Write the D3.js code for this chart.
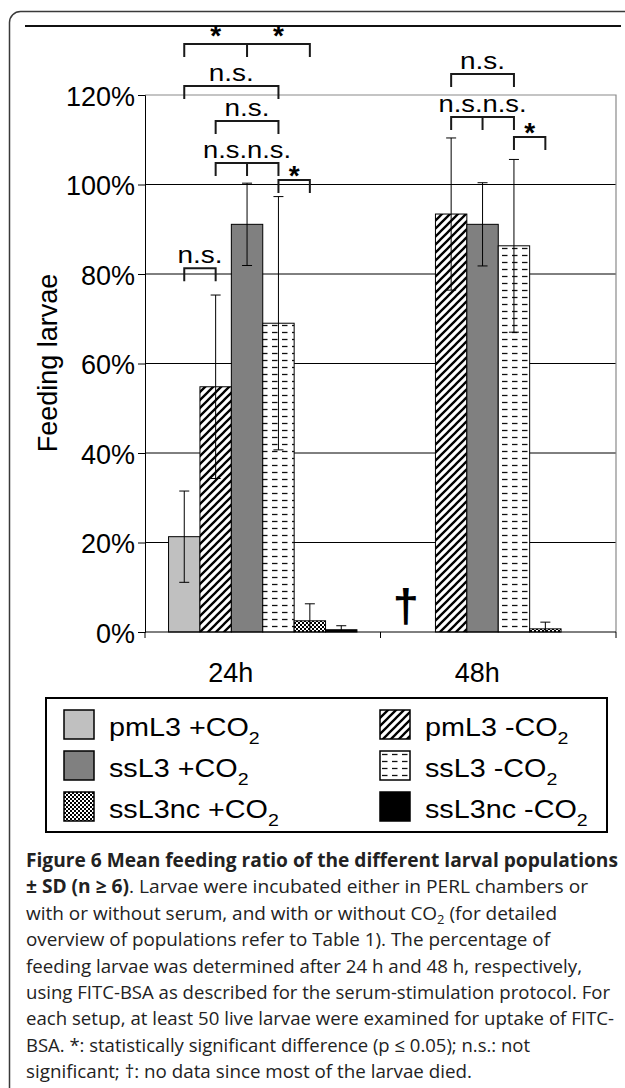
<!DOCTYPE html>
<html>
<head>
<meta charset="utf-8">
<script src="https://cdn.jsdelivr.net/npm/d3@7"></script>
<style>
  body { margin: 0; background: #fff; }
  svg { display: block; }
</style>
</head>
<body>
<svg id="svg0" width="625" height="1088"></svg>
<script>
// values (fraction of feeding larvae)
var categories = ['24h', '48h'];
var series = ['pmL3 +CO2', 'pmL3 -CO2', 'ssL3 +CO2', 'ssL3 -CO2', 'ssL3nc +CO2', 'ssL3nc -CO2'];
var means24 = [0.213, 0.548, 0.911, 0.690, 0.025, 0.005];
var sd24    = [0.102, 0.205, 0.092, 0.283, 0.038, 0.009];
var means48 = [null, 0.934, 0.911, 0.863, 0.007, 0];
var sd48    = [null, 0.170, 0.093, 0.193, 0.015, 0];
var yTicks = [0, 0.2, 0.4, 0.6, 0.8, 1.0, 1.2];

// significance brackets: category, bars joined, level, label
var brackets = [
    {cat: '24h', bars: [0, 1], level: 0.813, label: 'n.s.'},
    {cat: '24h', bars: [1, 2, 3], level: 1.048, label: 'n.s.n.s.'},
    {cat: '24h', bars: [3, 4], level: 1.010, label: '*'},
    {cat: '24h', bars: [1, 3], level: 1.142, label: 'n.s.'},
    {cat: '24h', bars: [0, 3], level: 1.220, label: 'n.s.'},
    {cat: '24h', bars: [0, 2, 4], level: 1.314, label: '* *'},
    {cat: '48h', bars: [1, 2, 3], level: 1.151, label: 'n.s.n.s.'},
    {cat: '48h', bars: [3, 4], level: 1.106, label: '*'},
    {cat: '48h', bars: [1, 3], level: 1.247, label: 'n.s.'}
];

var captionLines = [
    [{t: 'Figure 6 Mean feeding ratio of the different larval populations', b: true}],
    [{t: '\u00b1 SD (n \u2265 6)', b: true}, {t: '. Larvae were incubated either in PERL chambers or'}],
    [{t: 'with or without serum, and with or without CO'}, {t: '2', sub: true}, {t: ' (for detailed'}],
    [{t: 'overview of populations refer to Table 1). The percentage of'}],
    [{t: 'feeding larvae was determined after 24 h and 48 h, respectively,'}],
    [{t: 'using FITC-BSA as described for the serum-stimulation protocol. For'}],
    [{t: 'each setup, at least 50 live larvae were examined for uptake of FITC-'}],
    [{t: 'BSA. *: statistically significant difference (p \u2264 0.05); n.s.: not'}],
    [{t: 'significant; \u2020: no data since most of the larvae died.'}]
];
var captionWidths = [592, 562, 531, 524, 556, 584, 588, 504, 446];

var font = '"Liberation Sans", Arial, sans-serif';
var svg = d3.select('#svg0');

// frame
svg.append('rect')
    .attr('x', 9.5).attr('y', 11.5)
    .attr('width', 700).attr('height', 1200)
    .attr('rx', 11)
    .attr('fill', 'none')
    .attr('stroke', '#3a3a3a')
    .attr('stroke-width', 1.5);
svg.append('line')
    .attr('x1', 25).attr('x2', 621)
    .attr('y1', 26).attr('y2', 26)
    .attr('stroke', '#111').attr('stroke-width', 2);

// patterns
var defs = svg.append('defs');
var hatch = defs.append('pattern')
    .attr('id', 'hatch')
    .attr('patternUnits', 'userSpaceOnUse')
    .attr('width', 8).attr('height', 8);
hatch.append('rect').attr('width', 8).attr('height', 8).attr('fill', '#fff');
hatch.append('path')
    .attr('d', 'M-2,2 L2,-2 M0,8 L8,0 M6,10 L10,6')
    .attr('stroke', '#000').attr('stroke-width', 2.3);

var dash = defs.append('pattern')
    .attr('id', 'dash')
    .attr('patternUnits', 'userSpaceOnUse')
    .attr('width', 10).attr('height', 7);
dash.append('rect').attr('width', 10).attr('height', 7).attr('fill', '#fff');
dash.append('line')
    .attr('x1', 2).attr('x2', 7.5).attr('y1', 3.5).attr('y2', 3.5)
    .attr('stroke', '#111').attr('stroke-width', 1.3);

var check = defs.append('pattern')
    .attr('id', 'check')
    .attr('patternUnits', 'userSpaceOnUse')
    .attr('width', 4).attr('height', 4);
check.append('rect').attr('width', 4).attr('height', 4).attr('fill', '#fff');
check.append('rect').attr('width', 2).attr('height', 2).attr('fill', '#000');
check.append('rect').attr('x', 2).attr('y', 2).attr('width', 2).attr('height', 2).attr('fill', '#000');

var fills = ['#c0c0c0', 'url(#hatch)', '#808080', 'url(#dash)', 'url(#check)', '#000'];

// scales
var x0 = d3.scaleBand().domain(categories).range([145, 616]).paddingInner(0).paddingOuter(0);
var x1 = d3.scaleBand().domain(d3.range(series.length)).range([0, x0.bandwidth()])
    .paddingInner(0).paddingOuter(0.75);
var y = d3.scaleLinear().domain([0, 1.2]).range([632, 95]);

function cx(cat, i) { return x0(cat) + x1(i) + x1.bandwidth() / 2; }

// gridlines
svg.append('g').selectAll('line')
    .data([0.2, 0.4, 0.6, 0.8, 1.0])
    .enter().append('line')
    .attr('x1', 145).attr('x2', 616)
    .attr('y1', function(d){ return y(d); })
    .attr('y2', function(d){ return y(d); })
    .attr('stroke', '#000').attr('stroke-width', 1);

// plot border (top/right)
svg.append('path')
    .attr('d', 'M145,' + y(1.2) + 'H616V' + y(0))
    .attr('fill', 'none').attr('stroke', '#8a8a8a').attr('stroke-width', 1.2);

// bars
var data = [];
categories.forEach(function(cat, ci){
    var m = ci === 0 ? means24 : means48;
    var s = ci === 0 ? sd24 : sd48;
    series.forEach(function(name, i){
        data.push({cat: cat, i: i, v: m[i], sd: s[i]});
    });
});

svg.append('g').selectAll('rect')
    .data(data.filter(function(d){ return d.v !== null; }))
    .enter().append('rect')
    .attr('x', function(d){ return x0(d.cat) + x1(d.i); })
    .attr('y', function(d){ return y(d.v); })
    .attr('width', x1.bandwidth())
    .attr('height', function(d){ return y(0) - y(d.v); })
    .attr('fill', function(d){ return fills[d.i]; })
    .attr('stroke', '#000')
    .attr('stroke-width', function(d){ return d.v > 0 ? 1 : 0; });

// error bars
var eb = svg.append('g').attr('stroke', '#000').attr('stroke-width', 1);
data.filter(function(d){ return d.v !== null && d.sd > 0; }).forEach(function(d){
    var c = cx(d.cat, d.i);
    var lo = Math.max(0, d.v - d.sd);
    eb.append('line').attr('x1', c).attr('x2', c).attr('y1', y(d.v + d.sd)).attr('y2', y(lo));
    eb.append('line').attr('x1', c - 5).attr('x2', c + 5).attr('y1', y(d.v + d.sd)).attr('y2', y(d.v + d.sd));
    if (d.v - d.sd > 0) {
        eb.append('line').attr('x1', c - 5).attr('x2', c + 5).attr('y1', y(lo)).attr('y2', y(lo));
    }
});

// dagger for missing data
data.filter(function(d){ return d.v === null; }).forEach(function(d){
    svg.append('text')
        .attr('x', cx(d.cat, d.i) - 14)
        .attr('y', y(0) - 10)
        .attr('text-anchor', 'middle')
        .attr('font-family', font)
        .attr('font-size', 47)
        .attr('font-weight', 'bold')
        .text('\u2020');
});

// axes
var yAxis = svg.append('g')
    .attr('transform', 'translate(145,0)')
    .call(d3.axisLeft(y).tickValues(yTicks).tickFormat(d3.format('.0%')).tickSize(7).tickPadding(3));
yAxis.select('.domain').attr('stroke', '#000');
yAxis.selectAll('.tick line').attr('stroke', '#000');
yAxis.selectAll('text')
    .attr('font-family', font).attr('font-size', 27).attr('fill', '#000').attr('dy', '0.38em');

var xAxis = svg.append('g')
    .attr('transform', 'translate(0,' + y(0) + ')');
xAxis.append('line').attr('x1', 145).attr('x2', 616).attr('stroke', '#000');
xAxis.selectAll('.tk')
    .data([145, x0('48h'), 616])
    .enter().append('line')
    .attr('x1', function(d){ return d; }).attr('x2', function(d){ return d; })
    .attr('y1', 0).attr('y2', 6)
    .attr('stroke', '#000');
xAxis.selectAll('text')
    .data(categories)
    .enter().append('text')
    .attr('x', function(d, i){ return x0(d) + x0.bandwidth() / 2 - (i === 0 ? 32 : 21); })
    .attr('y', 50)
    .attr('text-anchor', 'middle')
    .attr('font-family', font).attr('font-size', 27)
    .text(function(d){ return d; });

svg.append('text')
    .attr('transform', 'translate(57,363) rotate(-90)')
    .attr('text-anchor', 'middle')
    .attr('font-family', font).attr('font-size', 27)
    .text('Feeding larvae');

// significance brackets
var bg = svg.append('g');
brackets.forEach(function(b){
    var xs = b.bars.map(function(i){ return cx(b.cat, i); });
    var ly = y(b.level);
    var d = 'M' + xs[0] + ',' + (ly + 13) + 'V' + ly + 'H' + xs[xs.length - 1] + 'V' + (ly + 13);
    for (var k = 1; k < xs.length - 1; k++) d += 'M' + xs[k] + ',' + ly + 'V' + (ly + 13);
    bg.append('path').attr('d', d)
        .attr('fill', 'none').attr('stroke', '#1a1a1a').attr('stroke-width', 2);
    if (b.label === '* *') {
        for (var j = 0; j < xs.length - 1; j++) {
            bg.append('text')
                .attr('x', (xs[j] + xs[j + 1]) / 2).attr('y', ly + 1)
                .attr('text-anchor', 'middle')
                .attr('font-family', font).attr('font-size', 28).attr('font-weight', 'bold')
                .text('*');
        }
    } else if (b.label === '*') {
        bg.append('text')
            .attr('x', (xs[0] + xs[1]) / 2).attr('y', ly + 5)
            .attr('text-anchor', 'middle')
            .attr('font-family', font).attr('font-size', 28).attr('font-weight', 'bold')
            .text('*');
    } else {
        var mid = (xs[0] + xs[xs.length - 1]) / 2;
        bg.append('text')
            .attr('x', mid).attr('y', ly - 5)
            .attr('text-anchor', 'middle')
            .attr('font-family', font).attr('font-size', 24)
            .attr('textLength', b.label.length === 4 ? 45 : 88)
            .attr('lengthAdjust', 'spacingAndGlyphs')
            .text(b.label);
    }
});

// legend
svg.append('rect')
    .attr('x', 46).attr('y', 698).attr('width', 561).attr('height', 134)
    .attr('fill', '#fff').attr('stroke', '#000').attr('stroke-width', 2);

var lg = svg.append('g').selectAll('g')
    .data(series)
    .enter().append('g')
    .attr('transform', function(d, i){
        return 'translate(' + (i % 2 === 0 ? 64 : 380) + ',' + (710 + Math.floor(i / 2) * 41) + ')';
    });
lg.append('rect')
    .attr('width', 30).attr('height', 29)
    .attr('fill', function(d, i){ return fills[i]; })
    .attr('stroke', '#000').attr('stroke-width', 1.5);
var lt = lg.append('text')
    .attr('transform', 'translate(45,26) scale(1.15,1)')
    .attr('font-family', font).attr('font-size', 25);
lt.append('tspan').text(function(d){ return d.slice(0, -1); });
lt.append('tspan').attr('font-size', 17).attr('dy', 8).text('2');

// caption
var cap = svg.append('g')
    .attr('font-family', '"Open Sans", "Noto Sans", sans-serif')
    .attr('font-size', 19)
    .attr('fill', '#222');
captionLines.forEach(function(line, li){
    var t = cap.append('text')
        .attr('x', 26).attr('y', 867 + li * 26.4)
        .attr('textLength', captionWidths[li])
        .attr('lengthAdjust', 'spacingAndGlyphs');
    line.forEach(function(part, pi){
        var s = t.append('tspan').text(part.t);
        if (part.b) s.attr('font-weight', 'bold');
        if (part.sub) s.attr('font-size', 13).attr('dy', 4);
        else if (pi > 0 && line[pi - 1].sub) s.attr('dy', -4);
    });
});
</script>
</body>
</html>
